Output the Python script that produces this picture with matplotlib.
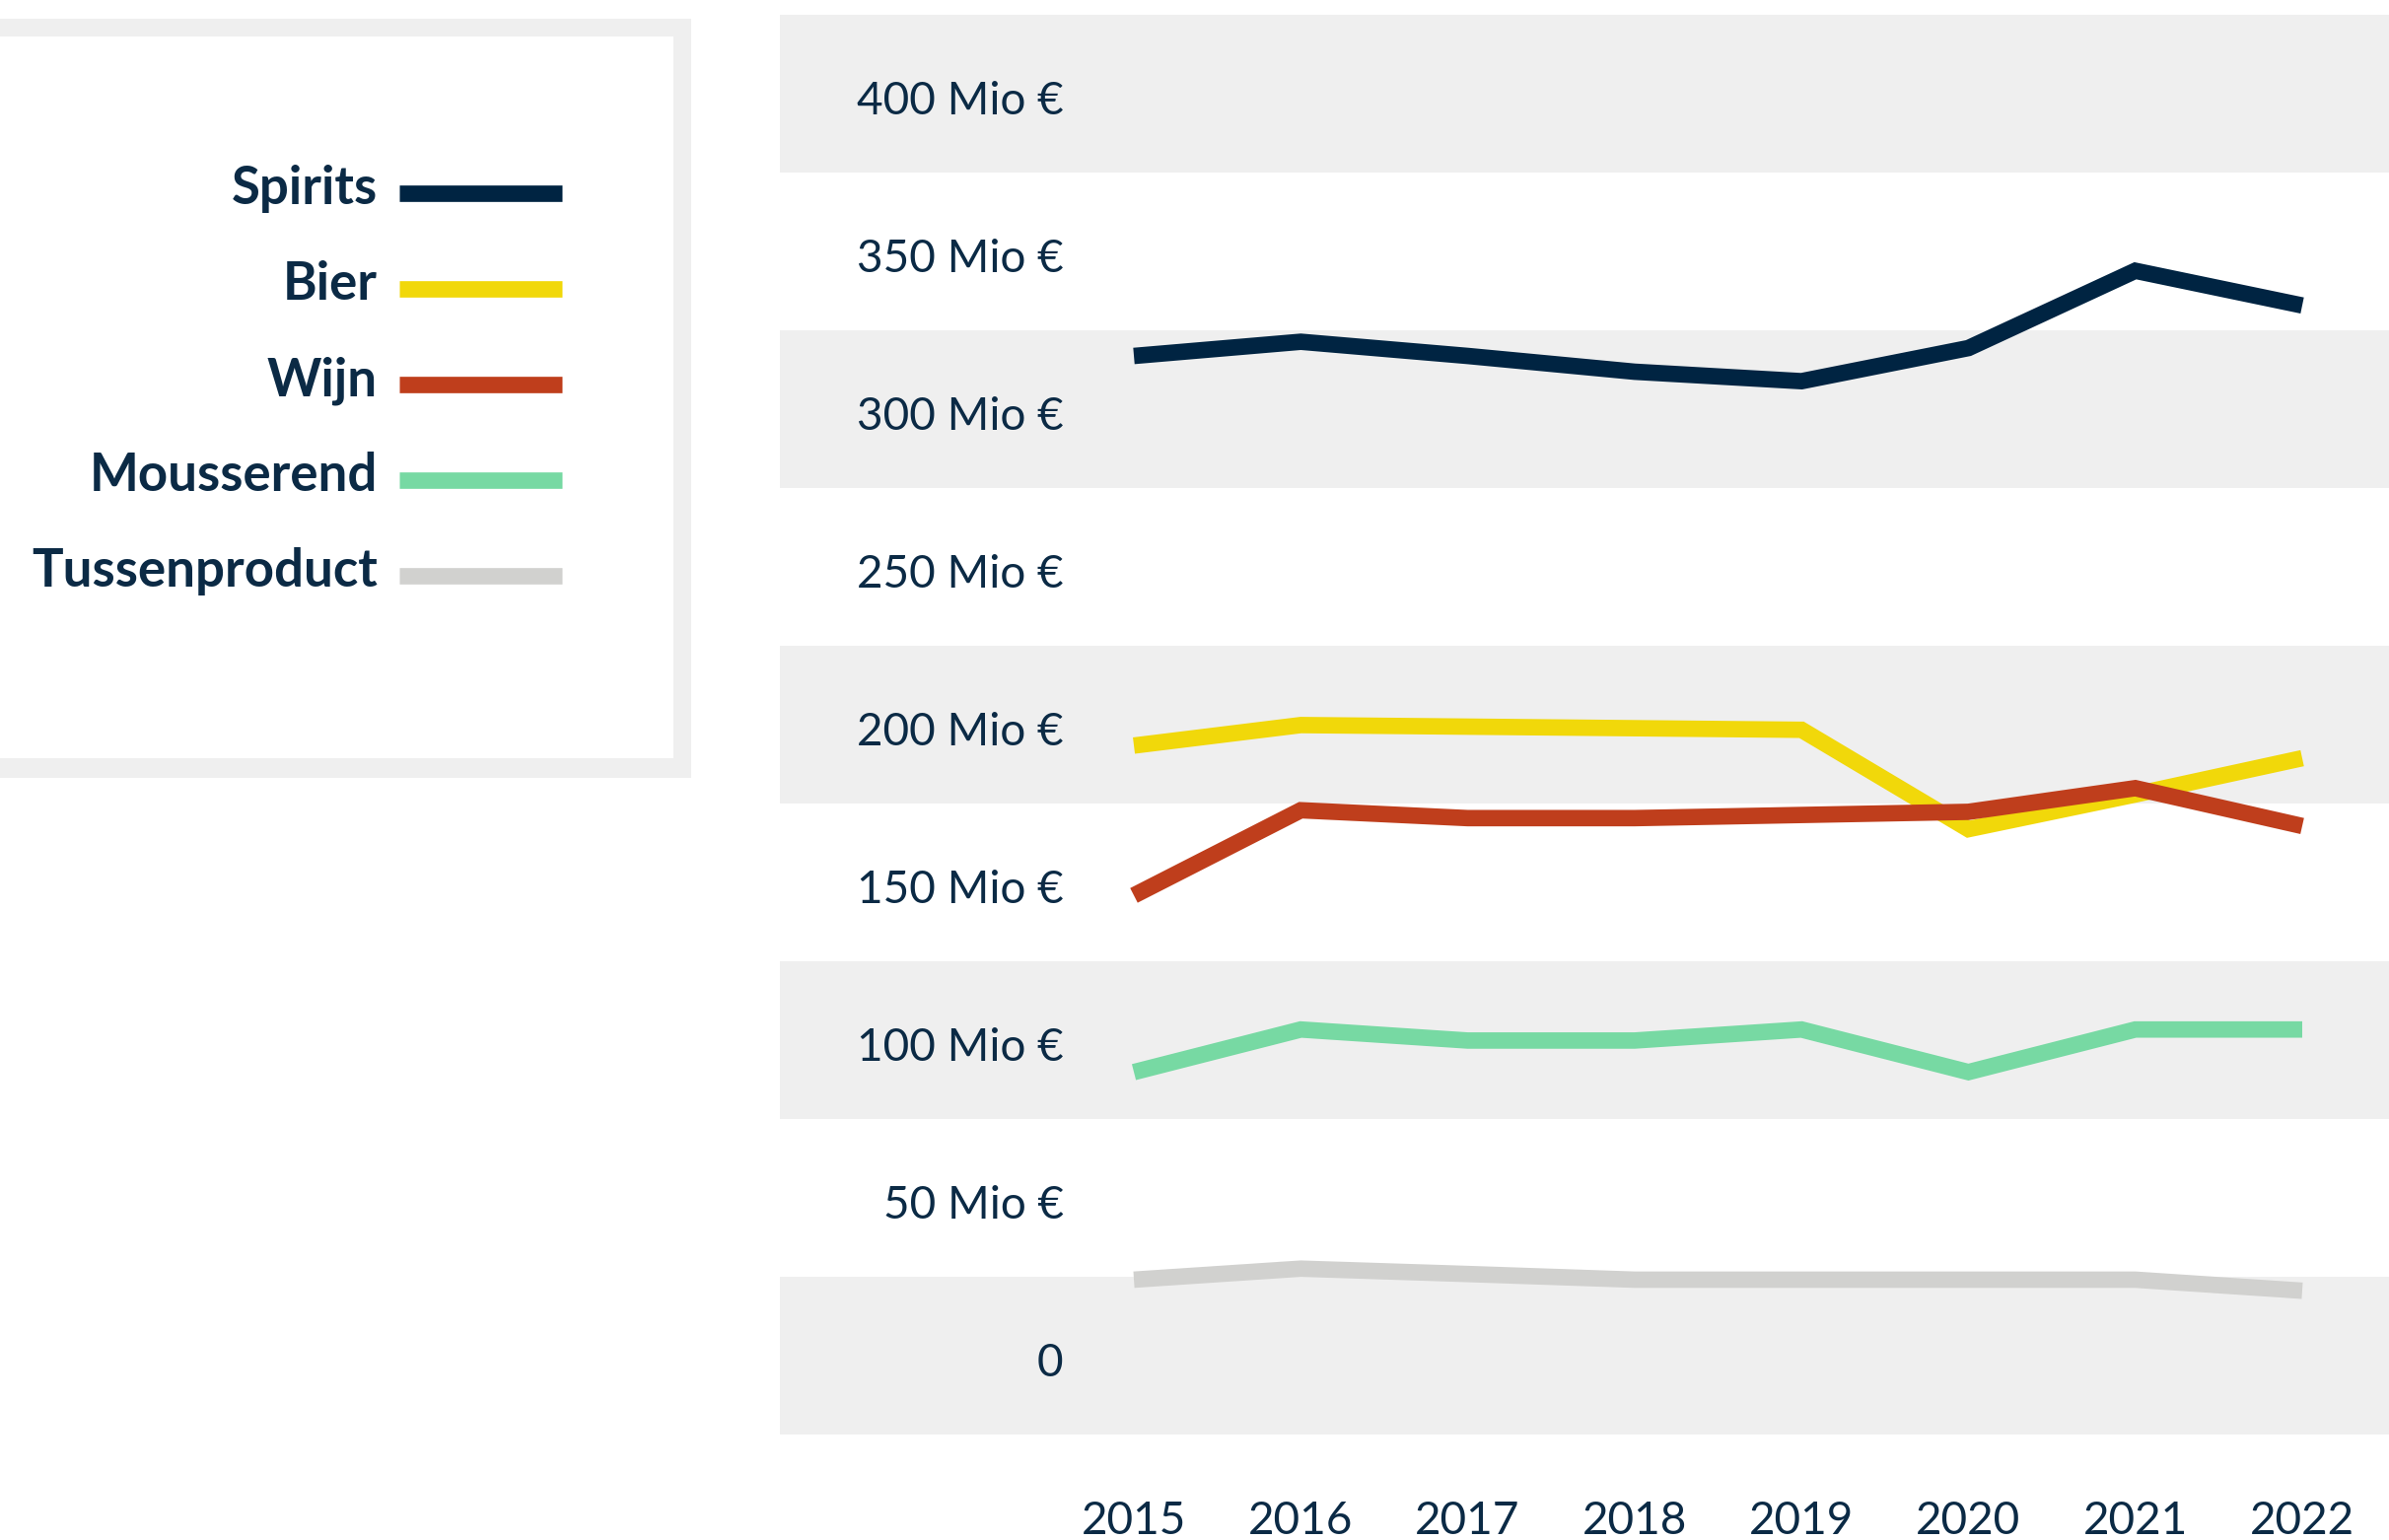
import matplotlib.pyplot as plt
from matplotlib.patches import Rectangle
from matplotlib.transforms import ScaledTranslation

years = [2015, 2016, 2017, 2018, 2019, 2020, 2021, 2022]
series_names = ["Spirits", "Bier", "Wijn", "Mousserend", "Tussenproduct"]
spirits = [317, 321.5, 317, 312, 309, 319.5, 344, 333]
bier = [193.5, 200, 199.5, 199, 198.5, 167, 178, 189.5]
wijn = [146, 173, 170.5, 170.5, 171.5, 172.5, 180, 168]
mousserend = [90, 103.5, 100, 100, 103.5, 90, 103.5, 103.5]
tussenproduct = [24.2, 27.7, 26, 24.2, 24.2, 24.2, 24.2, 20.7]
yticks = [0, 50, 100, 150, 200, 250, 300, 350, 400]
ytick_labels = ["0", "50 Mio €", "100 Mio €", "150 Mio €", "200 Mio €",
                "250 Mio €", "300 Mio €", "350 Mio €", "400 Mio €"]

values = [spirits, bier, wijn, mousserend, tussenproduct]
colors = ["#002442", "#f1d80a", "#bf3e1c", "#77d9a3", "#d1d1cf"]
navy = "#0b2a45"
band = "#efefef"

W, H = 2423, 1562
fig = plt.figure(figsize=(W / 100, H / 100), dpi=100)

# main chart
ax = fig.add_axes([512 / 1568, 1 - 942 / 1011, 1 - 512 / 1568, (942 - 10) / 1011])
for t in yticks[::2]:
    ax.axhspan(t - 25, t + 25, color=band, lw=0, zorder=0)
for vals, c in zip(values, colors):
    ax.plot(years, vals, color=c, lw=12, solid_capstyle="butt",
            solid_joinstyle="miter", zorder=3)

ax.set_xlim(2012.88, 2022.52)
ax.set_ylim(-25, 425)
ax.set_xticks(years)
ax.set_xticklabels([str(y) for y in years])
ax.set_yticks(yticks)
ax.set_yticklabels(ytick_labels)
ax.tick_params(axis="y", length=0, pad=-207, labelsize=33, labelcolor=navy)
ax.tick_params(axis="x", length=0, pad=48, labelsize=33, labelcolor=navy)
for lbl in ax.get_xticklabels() + ax.get_yticklabels():
    lbl.set_fontfamily("Lato")
shift = ScaledTranslation(0, -0.04, fig.dpi_scale_trans)
for lbl in ax.get_yticklabels():
    lbl.set_transform(lbl.get_transform() + shift)
for s in ax.spines.values():
    s.set_visible(False)
ax.set_zorder(1)

# legend box, pixel coordinates
lax = fig.add_axes([0, 0, 1, 1], zorder=2)
lax.set_xlim(0, W)
lax.set_ylim(H, 0)
lax.axis("off")
lax.add_patch(Rectangle((-50, 18.5), 751, 770, color=band, lw=0))
lax.add_patch(Rectangle((-50, 37), 733, 732, color="white", lw=0))
for i, (name, c) in enumerate(zip(series_names, colors)):
    y = 196 + i * 97
    lax.plot([405, 570], [y, y], color=c, lw=12, solid_capstyle="butt")
    lax.text(383, y - 4, name, ha="right", va="center", fontsize=38,
             fontweight="bold", family="Lato", color=navy)

fig.savefig("out.png", dpi=100)
